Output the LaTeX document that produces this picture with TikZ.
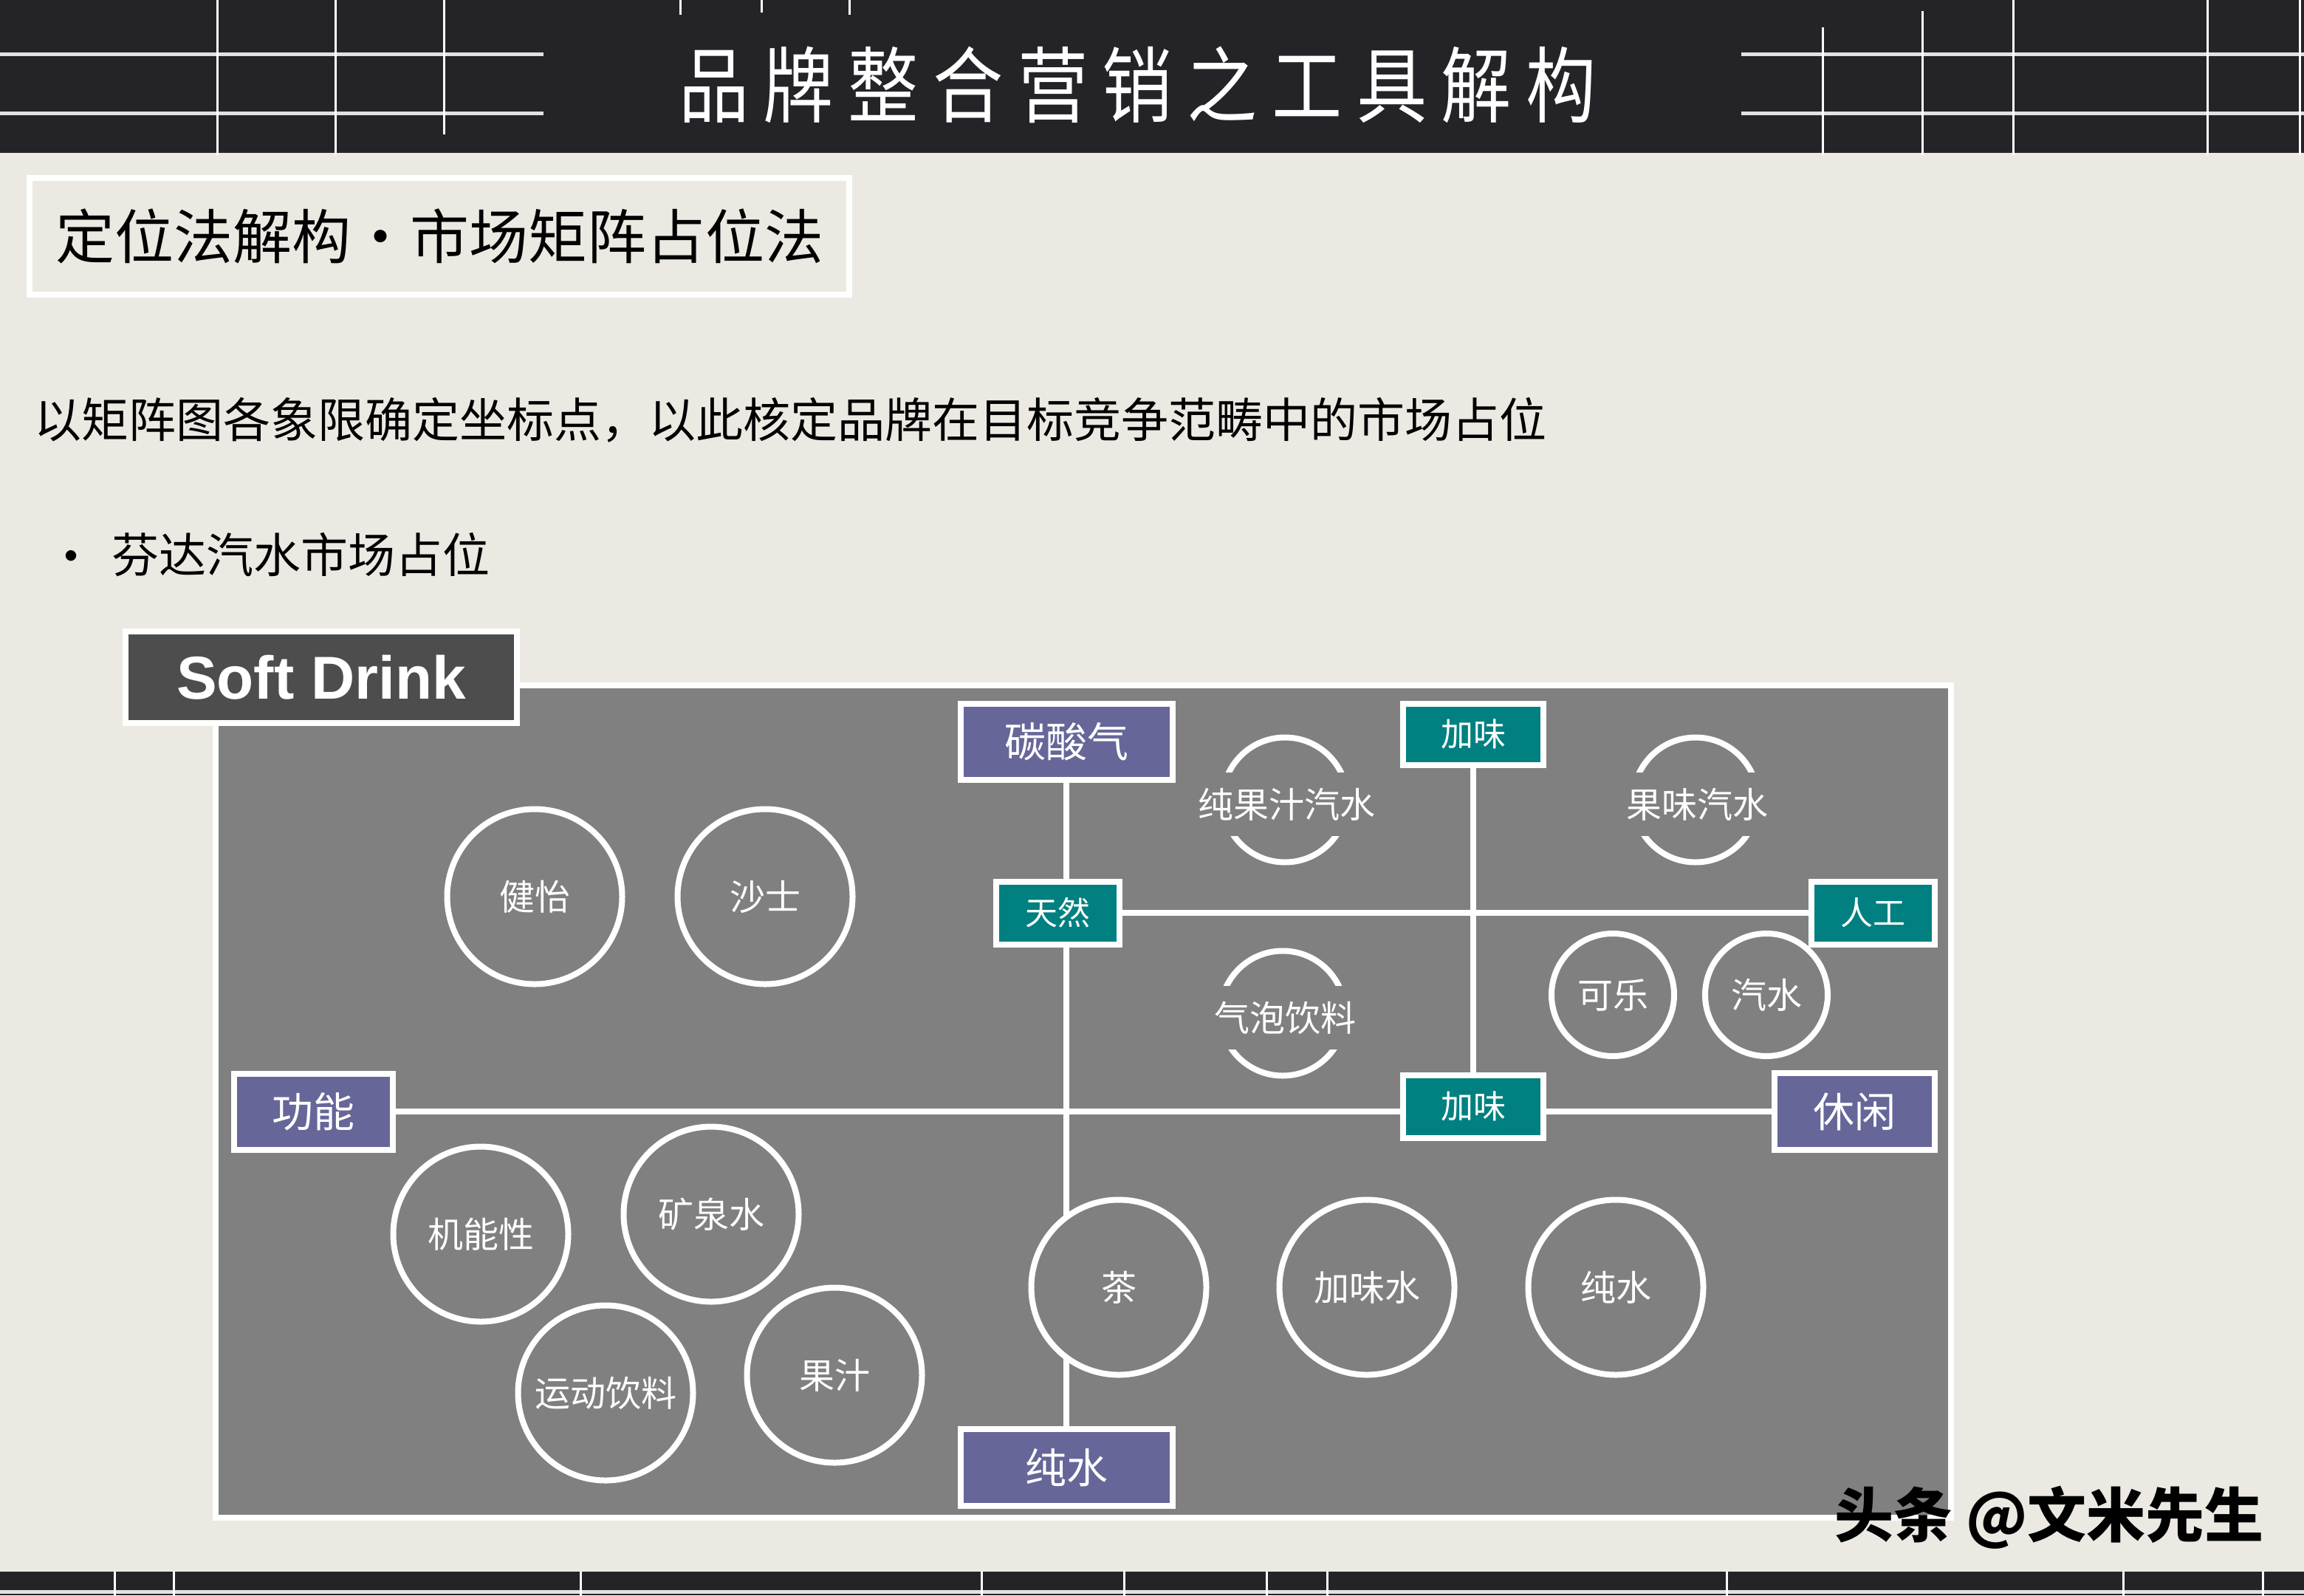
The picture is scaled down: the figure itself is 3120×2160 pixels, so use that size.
\documentclass[tikz,border=0pt]{standalone}
\usepackage{fontspec}
\usepackage{graphicx}
\setmainfont{Noto Sans CJK SC}
\newfontfamily\latinfont{Liberation Sans}
\definecolor{bgc}{RGB}{236,233,227}
\definecolor{hdr}{RGB}{36,35,39}
\definecolor{panelc}{RGB}{128,128,128}
\definecolor{purc}{RGB}{102,102,153}
\definecolor{tealc}{RGB}{0,128,128}
\definecolor{sdc}{RGB}{77,77,77}
\definecolor{decoline}{RGB}{225,225,225}
\pgfdeclarelayer{bg}
\pgfdeclarelayer{lines}
\pgfsetlayers{bg,lines,main}
\newcommand\tg{\hspace{23pt}}
\tikzset{
  hline/.style={draw=decoline, line width=5},
  vline/.style={draw=white, line width=3},
  conn/.style={draw=white, line width=8},
  purbox/.style={fill=purc, draw=white, line width=8, text=white, inner sep=0,
    font=\fontsize{56}{60}\selectfont},
  tealbox/.style={fill=tealc, draw=white, line width=8, text=white, inner sep=0,
    font=\fontsize{44}{48}\selectfont},
  bigc/.style={circle, draw=white, line width=8, fill=panelc, text=white, inner sep=0,
    minimum size=237, font=\fontsize{48}{52}\selectfont},
  smallc/.style={circle, draw=white, line width=8, fill=panelc, text=white, inner sep=0,
    minimum size=166, font=\fontsize{48}{52}\selectfont},
  arcc/.style={circle, draw=white, line width=8, inner sep=0, minimum size=169},
  arclabel/.style={fill=panelc, text=white, inner xsep=4, inner ysep=0, minimum height=86,
    font=\fontsize{48}{52}\selectfont},
  bodytext/.style={anchor=west, inner sep=0, text=black}
}
\begin{document}
\begin{tikzpicture}[x=1pt,y=-1pt]
\useasboundingbox (0,0) rectangle (3120,2160);
\begin{pgfonlayer}{bg}
  \fill[bgc] (0,0) rectangle (3120,2160);
  % header band
  \fill[hdr] (0,0) rectangle (3120,207);
  \foreach \yy in {73,153} {
    \draw[hline] (0,\yy) -- (736,\yy);
    \draw[hline] (2358,\yy) -- (3120,\yy);
  }
  \foreach \xx/\ya/\yb in {294/0/210, 454/0/210, 601/0/182, 921/0/20, 1031/0/17, 1150/0/20,
      2468/37/210, 2603/15/210, 2726/0/210, 2989/0/210, 3114/0/210} {
    \draw[vline] (\xx,\ya) -- (\xx,\yb);
  }
  % footer band
  \fill[hdr] (0,2128) rectangle (3120,2160);
  \draw[hline] (0,2155) -- (3120,2155);
  \foreach \xx in {155,235,786,1329,1522,1715,1797,2338,2875,3064} {
    \draw[vline] (\xx,2128) -- (\xx,2160);
  }
  % panel
  \draw[white, line width=8, fill=panelc] (292,928) rectangle (2642,2055);
\end{pgfonlayer}

% header title
\node[anchor=west, inner sep=0, text=white, font=\fontsize{112}{120}\selectfont] (title) at (919,115)
  {\scalebox{0.85}[1]{品\tg 牌\tg 整\tg 合\tg 营\tg 销\tg 之\tg 工\tg 具\tg 解\tg 构}};

% subtitle box
\node[draw=white, line width=8, minimum width=1110, minimum height=158, inner sep=0,
  font=\fontsize{80}{86}\selectfont, text=black] (sub) at (595,320)
  {定位法解构\makebox[80pt]{•}市场矩阵占位法};

\node[bodytext, font=\fontsize{64}{70}\selectfont] (desc) at (46,569)
  {以矩阵图各象限确定坐标点，以此核定品牌在目标竞争范畴中的市场占位};
\node[inner sep=0, font=\fontsize{68}{70}\selectfont, text=black] (bul) at (96,762) {•};
\node[bodytext, font=\fontsize{64}{70}\selectfont] (fanta) at (151,751) {芬达汽水市场占位};

% Soft Drink tab
\node[fill=sdc, draw=white, line width=8, minimum width=530, minimum height=124, inner sep=0,
  text=white, font=\latinfont\bfseries\fontsize{82}{90}\selectfont] (soft) at (435,917) {Soft Drink};

% axis boxes
\node[purbox, minimum width=287, minimum height=103] (tsq) at (1444,1004) {碳酸气};
\node[purbox, minimum width=287, minimum height=104] (csb) at (1444,1987) {纯水};
\node[purbox, minimum width=215, minimum height=103] (gn) at (424,1505) {功能};
\node[purbox, minimum width=217, minimum height=104] (xx) at (2511,1505) {休闲};
\node[tealbox, minimum width=190, minimum height=83] (jw1) at (1995,994) {加味};
\node[tealbox, minimum width=190, minimum height=85] (jw2) at (1995,1498) {加味};
\node[tealbox, minimum width=167, minimum height=85] (tr) at (1432,1236) {天然};
\node[tealbox, minimum width=167, minimum height=85] (rg) at (2536,1236) {人工};

% circles
\node[bigc] (c1) at (724,1214) {健怡};
\node[bigc] (c2) at (1036,1214) {沙士};
\node[bigc] (c3) at (651,1671) {机能性};
\node[bigc] (c4) at (963,1644) {矿泉水};
\node[bigc] (c5) at (820,1886) {运动饮料};
\node[bigc] (c6) at (1130,1862) {果汁};
\node[bigc] (c7) at (1515,1743) {茶};
\node[bigc] (c8) at (1851,1743) {加味水};
\node[bigc] (c9) at (2188,1743) {纯水};
\node[smallc] (c10) at (2184,1347) {可乐};
\node[smallc] (c11) at (2392,1347) {汽水};

\node[arcc] (a1) at (1740,1083) {};
\node[arclabel] (l1) at (1742,1089) {纯果汁汽水};
\node[arcc] (a2) at (2296,1083) {};
\node[arclabel] (l2) at (2298,1089) {果味汽水};
\node[arcc] (a3) at (1737,1372) {};
\node[arclabel] (l3) at (1740,1378) {气泡饮料};

% connectors
\begin{pgfonlayer}{lines}
  \draw[conn] (tsq) -- (csb);
  \draw[conn] (gn) -- (xx);
  \draw[conn] (jw1) -- (jw2);
  \draw[conn] (tr) -- (rg);
\end{pgfonlayer}

% watermark
\node[anchor=west, inner sep=0, text=black, font=\bfseries\fontsize{80}{86}\selectfont] (wm) at (2484,2055)
  {头条 @文米先生};
\end{tikzpicture}
\end{document}
